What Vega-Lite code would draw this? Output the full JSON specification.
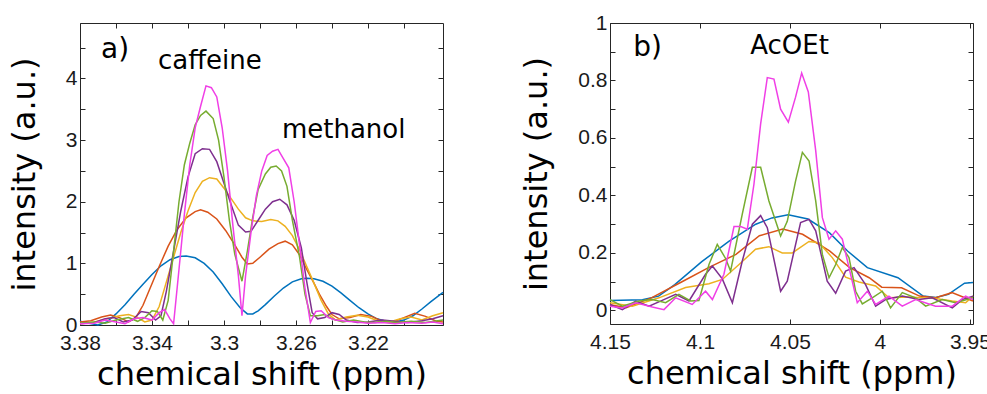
{
  "$schema": "https://vega.github.io/schema/vega-lite/v6.json",
  "background": "white",
  "padding": {"left": 7, "top": 11, "right": 5, "bottom": 0},
  "spacing": 73,
  "config": {
    "view": {"stroke": "#262626", "strokeWidth": 1},
    "axis": {"grid": false, "domain": false, "tickColor": "#262626", "tickSize": -5, "tickWidth": 1,
      "labelFont": "Liberation Sans", "labelFontSize": 21, "labelColor": "#1a1a1a",
      "titleFont": "DejaVu Sans", "titleFontSize": 32, "titleFontWeight": "normal", "titleColor": "#000000"},
    "line": {"strokeWidth": 1.5, "clip": true}
  },
  "datasets": {
    "a": [
      {"s":"1","x":3.380,"y":0.06},{"s":"1","x":3.375,"y":0.03},{"s":"1","x":3.370,"y":0.0},{"s":"1","x":3.365,"y":0.05},{"s":"1","x":3.360,"y":0.18},{"s":"1","x":3.355,"y":0.33},{"s":"1","x":3.350,"y":0.5},{"s":"1","x":3.345,"y":0.66},{"s":"1","x":3.340,"y":0.82},{"s":"1","x":3.335,"y":0.96},{"s":"1","x":3.330,"y":1.06},{"s":"1","x":3.325,"y":1.11},{"s":"1","x":3.321,"y":1.12},{"s":"1","x":3.316,"y":1.09},{"s":"1","x":3.311,"y":1.0},{"s":"1","x":3.306,"y":0.86},{"s":"1","x":3.301,"y":0.67},{"s":"1","x":3.296,"y":0.46},{"s":"1","x":3.291,"y":0.28},{"s":"1","x":3.287,"y":0.18},{"s":"1","x":3.284,"y":0.18},{"s":"1","x":3.281,"y":0.23},{"s":"1","x":3.277,"y":0.33},{"s":"1","x":3.272,"y":0.47},{"s":"1","x":3.267,"y":0.6},{"s":"1","x":3.262,"y":0.7},{"s":"1","x":3.257,"y":0.75},{"s":"1","x":3.254,"y":0.76},{"s":"1","x":3.250,"y":0.75},{"s":"1","x":3.245,"y":0.71},{"s":"1","x":3.240,"y":0.63},{"s":"1","x":3.235,"y":0.52},{"s":"1","x":3.230,"y":0.4},{"s":"1","x":3.225,"y":0.28},{"s":"1","x":3.220,"y":0.18},{"s":"1","x":3.215,"y":0.1},{"s":"1","x":3.210,"y":0.06},{"s":"1","x":3.205,"y":0.05},{"s":"1","x":3.200,"y":0.08},{"s":"1","x":3.195,"y":0.15},{"s":"1","x":3.190,"y":0.26},{"s":"1","x":3.185,"y":0.38},{"s":"1","x":3.1783,"y":0.53},
      {"s":"2","x":3.380,"y":0.05},{"s":"2","x":3.374,"y":0.07},{"s":"2","x":3.368,"y":0.13},{"s":"2","x":3.363,"y":0.16},{"s":"2","x":3.358,"y":0.12},{"s":"2","x":3.353,"y":0.05},{"s":"2","x":3.349,"y":0.12},{"s":"2","x":3.345,"y":0.32},{"s":"2","x":3.341,"y":0.6},{"s":"2","x":3.336,"y":0.95},{"s":"2","x":3.331,"y":1.28},{"s":"2","x":3.326,"y":1.55},{"s":"2","x":3.321,"y":1.74},{"s":"2","x":3.316,"y":1.84},{"s":"2","x":3.313,"y":1.87},{"s":"2","x":3.309,"y":1.83},{"s":"2","x":3.304,"y":1.72},{"s":"2","x":3.299,"y":1.53},{"s":"2","x":3.294,"y":1.3},{"s":"2","x":3.290,"y":1.1},{"s":"2","x":3.287,"y":0.99},{"s":"2","x":3.284,"y":1.0},{"s":"2","x":3.280,"y":1.1},{"s":"2","x":3.275,"y":1.23},{"s":"2","x":3.270,"y":1.32},{"s":"2","x":3.266,"y":1.36},{"s":"2","x":3.262,"y":1.3},{"s":"2","x":3.258,"y":1.14},{"s":"2","x":3.254,"y":0.9},{"s":"2","x":3.250,"y":0.68},{"s":"2","x":3.247,"y":0.5},{"s":"2","x":3.243,"y":0.3},{"s":"2","x":3.240,"y":0.17},{"s":"2","x":3.236,"y":0.1},{"s":"2","x":3.230,"y":0.12},{"s":"2","x":3.224,"y":0.17},{"s":"2","x":3.218,"y":0.14},{"s":"2","x":3.212,"y":0.06},{"s":"2","x":3.206,"y":0.05},{"s":"2","x":3.200,"y":0.12},{"s":"2","x":3.194,"y":0.19},{"s":"2","x":3.188,"y":0.14},{"s":"2","x":3.182,"y":0.06},{"s":"2","x":3.1783,"y":0.05},
      {"s":"3","x":3.380,"y":0.02},{"s":"3","x":3.372,"y":0.05},{"s":"3","x":3.365,"y":0.10},{"s":"3","x":3.358,"y":0.15},{"s":"3","x":3.353,"y":0.17},{"s":"3","x":3.348,"y":0.12},{"s":"3","x":3.344,"y":0.05},{"s":"3","x":3.340,"y":0.08},{"s":"3","x":3.336,"y":0.3},{"s":"3","x":3.332,"y":0.7},{"s":"3","x":3.328,"y":1.1},{"s":"3","x":3.324,"y":1.5},{"s":"3","x":3.320,"y":1.85},{"s":"3","x":3.316,"y":2.15},{"s":"3","x":3.312,"y":2.33},{"s":"3","x":3.308,"y":2.39},{"s":"3","x":3.304,"y":2.37},{"s":"3","x":3.300,"y":2.22},{"s":"3","x":3.296,"y":2.05},{"s":"3","x":3.292,"y":1.88},{"s":"3","x":3.288,"y":1.74},{"s":"3","x":3.284,"y":1.69},{"s":"3","x":3.279,"y":1.68},{"s":"3","x":3.274,"y":1.71},{"s":"3","x":3.270,"y":1.69},{"s":"3","x":3.266,"y":1.6},{"s":"3","x":3.262,"y":1.45},{"s":"3","x":3.258,"y":1.22},{"s":"3","x":3.254,"y":0.95},{"s":"3","x":3.250,"y":0.68},{"s":"3","x":3.246,"y":0.4},{"s":"3","x":3.242,"y":0.18},{"s":"3","x":3.238,"y":0.08},{"s":"3","x":3.232,"y":0.13},{"s":"3","x":3.226,"y":0.16},{"s":"3","x":3.220,"y":0.13},{"s":"3","x":3.214,"y":0.06},{"s":"3","x":3.208,"y":0.05},{"s":"3","x":3.202,"y":0.1},{"s":"3","x":3.196,"y":0.13},{"s":"3","x":3.190,"y":0.08},{"s":"3","x":3.184,"y":0.15},{"s":"3","x":3.1783,"y":0.2},
      {"s":"4","x":3.380,"y":0.02},{"s":"4","x":3.372,"y":0.04},{"s":"4","x":3.366,"y":0.10},{"s":"4","x":3.361,"y":0.12},{"s":"4","x":3.356,"y":0.05},{"s":"4","x":3.351,"y":0.08},{"s":"4","x":3.346,"y":0.22},{"s":"4","x":3.342,"y":0.20},{"s":"4","x":3.338,"y":0.08},{"s":"4","x":3.335,"y":0.15},{"s":"4","x":3.332,"y":0.55},{"s":"4","x":3.328,"y":1.2},{"s":"4","x":3.324,"y":1.85},{"s":"4","x":3.320,"y":2.4},{"s":"4","x":3.316,"y":2.78},{"s":"4","x":3.312,"y":2.86},{"s":"4","x":3.308,"y":2.85},{"s":"4","x":3.304,"y":2.65},{"s":"4","x":3.300,"y":2.3},{"s":"4","x":3.296,"y":1.95},{"s":"4","x":3.292,"y":1.62},{"s":"4","x":3.288,"y":1.51},{"s":"4","x":3.285,"y":1.52},{"s":"4","x":3.281,"y":1.7},{"s":"4","x":3.277,"y":1.88},{"s":"4","x":3.273,"y":2.0},{"s":"4","x":3.269,"y":2.04},{"s":"4","x":3.265,"y":1.95},{"s":"4","x":3.261,"y":1.7},{"s":"4","x":3.257,"y":1.25},{"s":"4","x":3.254,"y":0.7},{"s":"4","x":3.251,"y":0.2},{"s":"4","x":3.248,"y":0.1},{"s":"4","x":3.244,"y":0.12},{"s":"4","x":3.240,"y":0.2},{"s":"4","x":3.236,"y":0.17},{"s":"4","x":3.232,"y":0.08},{"s":"4","x":3.226,"y":0.04},{"s":"4","x":3.220,"y":0.05},{"s":"4","x":3.212,"y":0.08},{"s":"4","x":3.205,"y":0.06},{"s":"4","x":3.198,"y":0.04},{"s":"4","x":3.190,"y":0.07},{"s":"4","x":3.184,"y":0.1},{"s":"4","x":3.1783,"y":0.15},
      {"s":"5","x":3.380,"y":0.03},{"s":"5","x":3.372,"y":0.05},{"s":"5","x":3.366,"y":0.03},{"s":"5","x":3.360,"y":0.08},{"s":"5","x":3.353,"y":0.12},{"s":"5","x":3.348,"y":0.06},{"s":"5","x":3.344,"y":0.12},{"s":"5","x":3.340,"y":0.23},{"s":"5","x":3.337,"y":0.22},{"s":"5","x":3.334,"y":0.08},{"s":"5","x":3.331,"y":0.4},{"s":"5","x":3.328,"y":1.2},{"s":"5","x":3.325,"y":2.0},{"s":"5","x":3.322,"y":2.6},{"s":"5","x":3.319,"y":2.95},{"s":"5","x":3.316,"y":3.25},{"s":"5","x":3.313,"y":3.4},{"s":"5","x":3.310,"y":3.47},{"s":"5","x":3.306,"y":3.35},{"s":"5","x":3.303,"y":3.0},{"s":"5","x":3.300,"y":2.4},{"s":"5","x":3.297,"y":1.7},{"s":"5","x":3.294,"y":1.15},{"s":"5","x":3.290,"y":0.71},{"s":"5","x":3.287,"y":1.2},{"s":"5","x":3.284,"y":1.75},{"s":"5","x":3.281,"y":2.2},{"s":"5","x":3.277,"y":2.45},{"s":"5","x":3.274,"y":2.56},{"s":"5","x":3.271,"y":2.58},{"s":"5","x":3.268,"y":2.5},{"s":"5","x":3.265,"y":2.25},{"s":"5","x":3.262,"y":1.7},{"s":"5","x":3.258,"y":1.1},{"s":"5","x":3.255,"y":0.5},{"s":"5","x":3.252,"y":0.15},{"s":"5","x":3.248,"y":0.15},{"s":"5","x":3.244,"y":0.17},{"s":"5","x":3.240,"y":0.1},{"s":"5","x":3.234,"y":0.05},{"s":"5","x":3.228,"y":0.08},{"s":"5","x":3.222,"y":0.05},{"s":"5","x":3.216,"y":0.04},{"s":"5","x":3.210,"y":0.06},{"s":"5","x":3.204,"y":0.04},{"s":"5","x":3.196,"y":0.06},{"s":"5","x":3.188,"y":0.04},{"s":"5","x":3.1783,"y":0.08},
      {"s":"6","x":3.380,"y":0.02},{"s":"6","x":3.372,"y":0.03},{"s":"6","x":3.366,"y":0.08},{"s":"6","x":3.360,"y":0.05},{"s":"6","x":3.355,"y":0.02},{"s":"6","x":3.350,"y":0.1},{"s":"6","x":3.345,"y":0.12},{"s":"6","x":3.340,"y":0.08},{"s":"6","x":3.336,"y":0.2},{"s":"6","x":3.333,"y":0.25},{"s":"6","x":3.330,"y":0.1},{"s":"6","x":3.328,"y":0.02},{"s":"6","x":3.325,"y":0.9},{"s":"6","x":3.322,"y":1.8},{"s":"6","x":3.319,"y":2.6},{"s":"6","x":3.316,"y":3.2},{"s":"6","x":3.313,"y":3.55},{"s":"6","x":3.310,"y":3.88},{"s":"6","x":3.307,"y":3.85},{"s":"6","x":3.304,"y":3.7},{"s":"6","x":3.301,"y":3.2},{"s":"6","x":3.298,"y":2.5},{"s":"6","x":3.295,"y":1.6},{"s":"6","x":3.292,"y":0.8},{"s":"6","x":3.290,"y":0.15},{"s":"6","x":3.288,"y":0.8},{"s":"6","x":3.285,"y":1.5},{"s":"6","x":3.282,"y":2.1},{"s":"6","x":3.279,"y":2.5},{"s":"6","x":3.276,"y":2.75},{"s":"6","x":3.273,"y":2.82},{"s":"6","x":3.270,"y":2.85},{"s":"6","x":3.267,"y":2.7},{"s":"6","x":3.264,"y":2.55},{"s":"6","x":3.261,"y":2.0},{"s":"6","x":3.258,"y":1.3},{"s":"6","x":3.255,"y":0.6},{"s":"6","x":3.252,"y":0.04},{"s":"6","x":3.249,"y":0.22},{"s":"6","x":3.246,"y":0.23},{"s":"6","x":3.242,"y":0.12},{"s":"6","x":3.238,"y":0.08},{"s":"6","x":3.232,"y":0.06},{"s":"6","x":3.226,"y":0.05},{"s":"6","x":3.220,"y":0.03},{"s":"6","x":3.212,"y":0.04},{"s":"6","x":3.205,"y":0.02},{"s":"6","x":3.198,"y":0.04},{"s":"6","x":3.190,"y":0.03},{"s":"6","x":3.184,"y":0.05},{"s":"6","x":3.1783,"y":0.02}
    ],
    "b": [
      {"s":"1","x":4.150,"y":0.035},{"s":"1","x":4.132,"y":0.037},{"s":"1","x":4.123,"y":0.05},{"s":"1","x":4.114,"y":0.09},{"s":"1","x":4.099,"y":0.17},{"s":"1","x":4.084,"y":0.24},{"s":"1","x":4.069,"y":0.30},{"s":"1","x":4.060,"y":0.322},{"s":"1","x":4.051,"y":0.333},{"s":"1","x":4.040,"y":0.318},{"s":"1","x":4.028,"y":0.27},{"s":"1","x":4.018,"y":0.207},{"s":"1","x":4.007,"y":0.149},{"s":"1","x":3.990,"y":0.114},{"s":"1","x":3.976,"y":0.05},{"s":"1","x":3.969,"y":0.045},{"s":"1","x":3.962,"y":0.056},{"s":"1","x":3.953,"y":0.095},{"s":"1","x":3.9483,"y":0.097},
      {"s":"2","x":4.150,"y":0.02},{"s":"2","x":4.141,"y":0.01},{"s":"2","x":4.127,"y":0.044},{"s":"2","x":4.110,"y":0.1},{"s":"2","x":4.095,"y":0.15},{"s":"2","x":4.080,"y":0.195},{"s":"2","x":4.067,"y":0.26},{"s":"2","x":4.054,"y":0.283},{"s":"2","x":4.043,"y":0.265},{"s":"2","x":4.028,"y":0.207},{"s":"2","x":4.017,"y":0.15},{"s":"2","x":4.006,"y":0.114},{"s":"2","x":3.999,"y":0.081},{"s":"2","x":3.988,"y":0.079},{"s":"2","x":3.978,"y":0.05},{"s":"2","x":3.969,"y":0.044},{"s":"2","x":3.960,"y":0.062},{"s":"2","x":3.9483,"y":0.033},
      {"s":"3","x":4.150,"y":0.027},{"s":"3","x":4.1376,"y":0.015},{"s":"3","x":4.1228,"y":0.044},{"s":"3","x":4.108,"y":0.08},{"s":"3","x":4.095,"y":0.093},{"s":"3","x":4.0876,"y":0.108},{"s":"3","x":4.0783,"y":0.16},{"s":"3","x":4.0691,"y":0.213},{"s":"3","x":4.0617,"y":0.222},{"s":"3","x":4.0543,"y":0.2},{"s":"3","x":4.0487,"y":0.2},{"s":"3","x":4.0394,"y":0.24},{"s":"3","x":4.0339,"y":0.236},{"s":"3","x":4.0265,"y":0.184},{"s":"3","x":4.0191,"y":0.116},{"s":"3","x":4.0117,"y":0.099},{"s":"3","x":4.0024,"y":0.085},{"s":"3","x":3.995,"y":0.044},{"s":"3","x":3.9839,"y":0.047},{"s":"3","x":3.9691,"y":0.042},{"s":"3","x":3.9598,"y":0.033},{"s":"3","x":3.9524,"y":0.027},{"s":"3","x":3.9483,"y":0.05},
      {"s":"4","x":4.150,"y":0.021},{"s":"4","x":4.1431,"y":0.003},{"s":"4","x":4.1357,"y":0.033},{"s":"4","x":4.1283,"y":0.015},{"s":"4","x":4.121,"y":0.035},{"s":"4","x":4.1135,"y":0.056},{"s":"4","x":4.1061,"y":0.033},{"s":"4","x":4.0969,"y":0.126},{"s":"4","x":4.0931,"y":0.155},{"s":"4","x":4.0876,"y":0.11},{"s":"4","x":4.082,"y":0.027},{"s":"4","x":4.0765,"y":0.172},{"s":"4","x":4.0709,"y":0.3},{"s":"4","x":4.0663,"y":0.33},{"s":"4","x":4.0626,"y":0.288},{"s":"4","x":4.0552,"y":0.067},{"s":"4","x":4.0515,"y":0.102},{"s":"4","x":4.0441,"y":0.306},{"s":"4","x":4.0394,"y":0.317},{"s":"4","x":4.0357,"y":0.277},{"s":"4","x":4.0293,"y":0.102},{"s":"4","x":4.0246,"y":0.06},{"s":"4","x":4.0191,"y":0.137},{"s":"4","x":4.0144,"y":0.149},{"s":"4","x":4.008,"y":0.09},{"s":"4","x":4.0024,"y":0.015},{"s":"4","x":3.9969,"y":0.038},{"s":"4","x":3.9876,"y":0.05},{"s":"4","x":3.9783,"y":0.038},{"s":"4","x":3.9709,"y":0.044},{"s":"4","x":3.9598,"y":0.009},{"s":"4","x":3.9543,"y":0.038},{"s":"4","x":3.9483,"y":0.05},
      {"s":"5","x":4.150,"y":0.038},{"s":"5","x":4.1431,"y":0.015},{"s":"5","x":4.1339,"y":0.033},{"s":"5","x":4.1265,"y":0.038},{"s":"5","x":4.1191,"y":0.027},{"s":"5","x":4.1117,"y":0.056},{"s":"5","x":4.1052,"y":0.033},{"s":"5","x":4.1006,"y":0.035},{"s":"5","x":4.095,"y":0.16},{"s":"5","x":4.0904,"y":0.23},{"s":"5","x":4.0857,"y":0.18},{"s":"5","x":4.083,"y":0.137},{"s":"5","x":4.0765,"y":0.335},{"s":"5","x":4.0709,"y":0.498},{"s":"5","x":4.0663,"y":0.498},{"s":"5","x":4.0617,"y":0.381},{"s":"5","x":4.0552,"y":0.259},{"s":"5","x":4.0515,"y":0.31},{"s":"5","x":4.0469,"y":0.45},{"s":"5","x":4.0431,"y":0.55},{"s":"5","x":4.0394,"y":0.52},{"s":"5","x":4.0357,"y":0.381},{"s":"5","x":4.032,"y":0.195},{"s":"5","x":4.0283,"y":0.114},{"s":"5","x":4.0246,"y":0.16},{"s":"5","x":4.0209,"y":0.219},{"s":"5","x":4.0172,"y":0.184},{"s":"5","x":4.0135,"y":0.067},{"s":"5","x":4.0098,"y":0.023},{"s":"5","x":4.0043,"y":0.044},{"s":"5","x":3.9987,"y":0.067},{"s":"5","x":3.9941,"y":0.009},{"s":"5","x":3.9876,"y":0.062},{"s":"5","x":3.9802,"y":0.044},{"s":"5","x":3.9746,"y":0.015},{"s":"5","x":3.9654,"y":0.038},{"s":"5","x":3.958,"y":0.027},{"s":"5","x":3.9483,"y":0.044},
      {"s":"6","x":4.150,"y":0.015},{"s":"6","x":4.1431,"y":0.009},{"s":"6","x":4.1357,"y":0.027},{"s":"6","x":4.1265,"y":0.012},{"s":"6","x":4.12,"y":0.003},{"s":"6","x":4.1135,"y":0.044},{"s":"6","x":4.1043,"y":0.021},{"s":"6","x":4.0969,"y":0.067},{"s":"6","x":4.0931,"y":0.038},{"s":"6","x":4.0867,"y":0.126},{"s":"6","x":4.0811,"y":0.292},{"s":"6","x":4.0774,"y":0.292},{"s":"6","x":4.0737,"y":0.283},{"s":"6","x":4.07,"y":0.44},{"s":"6","x":4.0663,"y":0.649},{"s":"6","x":4.0626,"y":0.81},{"s":"6","x":4.0589,"y":0.805},{"s":"6","x":4.0552,"y":0.70},{"s":"6","x":4.0509,"y":0.655},{"s":"6","x":4.0469,"y":0.742},{"s":"6","x":4.0435,"y":0.826},{"s":"6","x":4.0398,"y":0.76},{"s":"6","x":4.0357,"y":0.556},{"s":"6","x":4.032,"y":0.323},{"s":"6","x":4.0283,"y":0.248},{"s":"6","x":4.0246,"y":0.277},{"s":"6","x":4.0209,"y":0.248},{"s":"6","x":4.0172,"y":0.149},{"s":"6","x":4.0126,"y":0.027},{"s":"6","x":4.007,"y":0.067},{"s":"6","x":4.0024,"y":0.021},{"s":"6","x":3.995,"y":0.05},{"s":"6","x":3.9876,"y":0.015},{"s":"6","x":3.9802,"y":0.038},{"s":"6","x":3.9691,"y":0.015},{"s":"6","x":3.9598,"y":0.015},{"s":"6","x":3.9524,"y":0.05},{"s":"6","x":3.9483,"y":0.038}
    ]
  },
  "hconcat": [
    {
      "width": 363, "height": 302,
      "resolve": {"axis": {"x": "independent", "y": "independent"}},
      "layer": [
        {
          "data": {"name": "a"},
          "mark": "line",
          "encoding": {
            "x": {"field": "x", "type": "quantitative",
              "scale": {"domain": [3.1783, 3.38], "reverse": true, "nice": false, "zero": false},
              "axis": {"orient": "bottom", "title": "chemical shift (ppm)", "values": [3.38,3.36,3.34,3.32,3.3,3.28,3.26,3.24,3.22,3.2], "format": ".2~f",
                "labelExpr": "round(datum.value*100)%4==2 ? datum.label : ''", "labelPadding": 12, "titlePadding": 6, "labelFlush": false, "labelOverlap": false}},
            "y": {"field": "y", "type": "quantitative",
              "scale": {"domain": [0, 4.9], "nice": false, "zero": false},
              "axis": {"orient": "left", "title": "intensity (a.u.)", "values": [0,0.5,1,1.5,2,2.5,3,3.5,4,4.5], "format": "~g",
                "labelExpr": "datum.value%1==0 ? datum.label : ''", "labelPadding": 8, "titlePadding": 24, "labelFlush": false, "labelOverlap": false}},
            "color": {"field": "s", "type": "nominal", "legend": null,
              "scale": {"domain": ["1","2","3","4","5","6"], "range": ["#0072BD","#D95319","#EDB120","#7E2F8E","#77AC30","#F03FE6"]}}
          }
        },
        {
          "data": {"name": "a"},
          "mark": {"type": "line", "opacity": 0},
          "encoding": {
            "x": {"field": "x", "type": "quantitative",
              "axis": {"orient": "top", "title": null, "labels": false, "values": [3.38,3.36,3.34,3.32,3.3,3.28,3.26,3.24,3.22,3.2]}},
            "y": {"field": "y", "type": "quantitative",
              "axis": {"orient": "right", "title": null, "labels": false, "values": [0,0.5,1,1.5,2,2.5,3,3.5,4,4.5]}},
            "detail": {"field": "s"}
          }
        },
        {
          "data": {"values": [{"x": 3.3683, "y": 4.334, "t": "a)"}]},
          "mark": {"type": "text", "align": "left", "baseline": "alphabetic", "font": "DejaVu Sans", "fontSize": 28, "color": "#000000"},
          "encoding": {
            "x": {"field": "x", "type": "quantitative", "axis": null},
            "y": {"field": "y", "type": "quantitative", "axis": null},
            "text": {"field": "t"}
          }
        },
        {
          "data": {"values": [{"x": 3.3367, "y": 4.151, "t": "caffeine"}, {"x": 3.2678, "y": 3.032, "t": "methanol"}]},
          "mark": {"type": "text", "align": "left", "baseline": "alphabetic", "font": "DejaVu Sans", "fontSize": 26, "color": "#000000"},
          "encoding": {
            "x": {"field": "x", "type": "quantitative", "axis": null},
            "y": {"field": "y", "type": "quantitative", "axis": null},
            "text": {"field": "t"}
          }
        }
      ]
    },
    {
      "width": 363, "height": 301,
      "resolve": {"axis": {"x": "independent", "y": "independent"}},
      "layer": [
        {
          "data": {"name": "b"},
          "mark": "line",
          "encoding": {
            "x": {"field": "x", "type": "quantitative",
              "scale": {"domain": [3.9483, 4.15], "reverse": true, "nice": false, "zero": false},
              "axis": {"orient": "bottom", "title": "chemical shift (ppm)", "values": [4.15,4.1,4.05,4,3.95], "format": ".2~f",
                "labelPadding": 12, "titlePadding": 6, "labelFlush": false, "labelOverlap": false}},
            "y": {"field": "y", "type": "quantitative",
              "scale": {"domain": [-0.047, 1], "nice": false, "zero": false},
              "axis": {"orient": "left", "title": "intensity (a.u.)", "values": [0,0.1,0.2,0.3,0.4,0.5,0.6,0.7,0.8,0.9,1], "format": "~g",
                "labelExpr": "round(datum.value*10)%2==0 ? datum.label : ''", "labelPadding": 8, "titlePadding": 24, "labelFlush": false, "labelOverlap": false}},
            "color": {"field": "s", "type": "nominal", "legend": null,
              "scale": {"domain": ["1","2","3","4","5","6"], "range": ["#0072BD","#D95319","#EDB120","#7E2F8E","#77AC30","#F03FE6"]}}
          }
        },
        {
          "data": {"name": "b"},
          "mark": {"type": "line", "opacity": 0},
          "encoding": {
            "x": {"field": "x", "type": "quantitative",
              "axis": {"orient": "top", "title": null, "labels": false, "values": [4.15,4.1,4.05,4,3.95]}},
            "y": {"field": "y", "type": "quantitative",
              "axis": {"orient": "right", "title": null, "labels": false, "values": [0,0.1,0.2,0.3,0.4,0.5,0.6,0.7,0.8,0.9,1]}},
            "detail": {"field": "s"}
          }
        },
        {
          "data": {"values": [{"x": 4.1371, "y": 0.8856, "t": "b)"}]},
          "mark": {"type": "text", "align": "left", "baseline": "alphabetic", "font": "DejaVu Sans", "fontSize": 28, "color": "#000000"},
          "encoding": {
            "x": {"field": "x", "type": "quantitative", "axis": null},
            "y": {"field": "y", "type": "quantitative", "axis": null},
            "text": {"field": "t"}
          }
        },
        {
          "data": {"values": [{"x": 4.0721, "y": 0.893, "t": "AcOEt"}]},
          "mark": {"type": "text", "align": "left", "baseline": "alphabetic", "font": "DejaVu Sans", "fontSize": 26, "color": "#000000"},
          "encoding": {
            "x": {"field": "x", "type": "quantitative", "axis": null},
            "y": {"field": "y", "type": "quantitative", "axis": null},
            "text": {"field": "t"}
          }
        }
      ]
    }
  ]
}
